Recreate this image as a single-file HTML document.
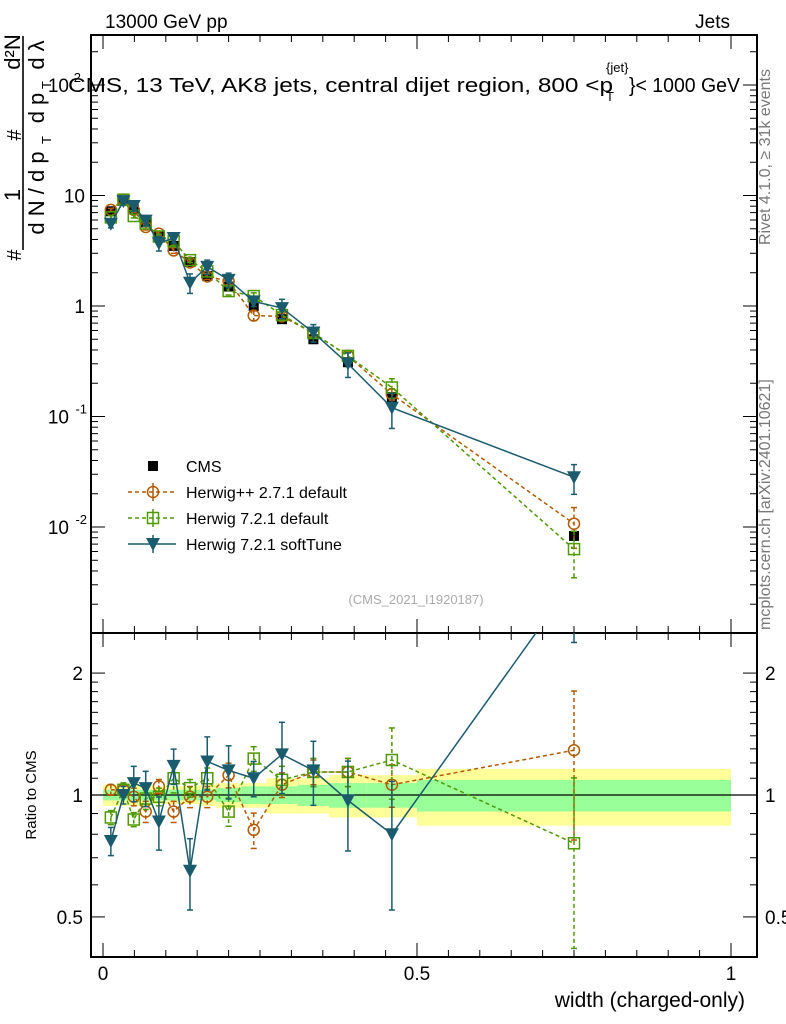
<!DOCTYPE html>
<html><head><meta charset="utf-8"><style>
body{margin:0;background:#fff}
svg{display:block;font-family:"Liberation Sans",sans-serif}
</style></head><body>
<svg id="c" width="786" height="1024" viewBox="0 0 786 1024"></svg>
<script>
const xs=[0.0125,0.0325,0.049,0.068,0.089,0.1125,0.1385,0.166,0.2,0.24,0.285,0.335,0.39,0.46,0.75];
const edges=[0,0.025,0.04,0.058,0.078,0.1,0.125,0.152,0.18,0.22,0.26,0.31,0.36,0.42,0.5,1.0];
const cms=[7.2,8.9,7.5,5.7,4.3,3.5,2.5,1.87,1.5,1.0,0.76,0.5,0.31,0.15,0.0083];
const bandYellow=[0.06,0.06,0.06,0.06,0.05,0.05,0.05,0.06,0.07,0.07,0.1,0.1,0.12,0.12,0.16];
const bandGreen=[0.03,0.03,0.03,0.03,0.03,0.03,0.03,0.03,0.04,0.05,0.05,0.06,0.07,0.07,0.09];
const rHpp=[1.03,1.03,0.99,0.91,1.05,0.91,0.99,0.99,1.12,0.82,1.06,1.14,1.14,1.06,1.29];
const eHpp=[0.03,0.03,0.05,0.06,0.04,0.06,0.06,0.06,0.07,0.1,0.07,0.07,0.08,0.12,0.4];
const rH7=[0.88,1.03,0.87,0.98,0.99,1.10,1.04,1.10,0.91,1.23,1.09,1.14,1.14,1.22,0.76];
const eH7=[0.04,0.04,0.04,0.06,0.05,0.08,0.05,0.06,0.08,0.07,0.08,0.08,0.08,0.2,0.45];
const rSoft=[0.77,1.0,1.07,1.04,0.86,1.18,0.65,1.21,1.15,1.10,1.26,1.15,0.97,0.80,3.4];
const eSoft=[0.08,0.05,0.1,0.1,0.15,0.1,0.2,0.15,0.15,0.1,0.2,0.18,0.25,0.35,0.3];
const mainTicks=[["10",10],["1",1]];
const ratioTicks=[["2",2],["1",1],["0.5",0.5]];
const xTicks=[["0",0],["0.5",0.5],["1",1]];

const NS="http://www.w3.org/2000/svg",svg=document.getElementById('c');
function el(t,a,p){const e=document.createElementNS(NS,t);for(const k in a)e.setAttribute(k,a[k]);(p||svg).appendChild(e);return e;}
const X=v=>103+628*v;
const Y=v=>306-110.5*Math.log10(v);
const R=v=>795-405*Math.log10(v);
const L=91,Rt=757,T=35,M=633,B=957;

const defs=el('defs',{});
let cp=el('clipPath',{id:'cm'},defs);el('rect',{x:L,y:T,width:Rt-L,height:M-T},cp);
cp=el('clipPath',{id:'cr'},defs);el('rect',{x:L,y:M,width:Rt-L,height:B-M},cp);

let t;
t=el('text',{x:105,y:28,'font-size':19});t.textContent='13000 GeV pp';

t=el('text',{x:730,y:28,'font-size':19,'text-anchor':'end'});t.textContent='Jets';

t=el('text',{x:68,y:92,'font-size':20,textLength:545,lengthAdjust:'spacingAndGlyphs'});t.textContent='CMS, 13 TeV, AK8 jets, central dijet region, 800 <p';

t=el('text',{x:606,y:72,'font-size':13});t.textContent='{jet}';
t=el('text',{x:606,y:101,'font-size':13});t.textContent='T';
t=el('text',{x:629,y:92,'font-size':20,textLength:111,lengthAdjust:'spacingAndGlyphs'});t.textContent='}< 1000 GeV';
t=el('text',{x:0,y:0,'font-size':16,fill:'#777',transform:'translate(770,245) rotate(-90)'});t.textContent='Rivet 4.1.0, ≥ 31k events';

t=el('text',{x:0,y:0,'font-size':16,fill:'#777',transform:'translate(770,630) rotate(-90)'});t.textContent='mcplots.cern.ch [arXiv:2401.10621]';

t=el('text',{x:416,y:604,'font-size':13,fill:'#aaa','text-anchor':'middle'});t.textContent='(CMS_2021_I1920187)';


// y axis title (rotated)
const yt=el('g',{});

function rt(s,x,y,fs){const e=el('text',{x:0,y:0,'font-size':fs,'text-anchor':'middle',transform:`translate(${x},${y}) rotate(-90)`},yt);e.textContent=s;return e;}
rt('#',21,255,20);rt('1',20,195,22);rt('#',21,135,20);rt('d²N',20,52,22);
el('line',{x1:23,y1:36,x2:23,y2:250,stroke:'#000','stroke-width':1.6},yt);
rt('d N / d p',44,193,22);rt('T',51,140,13);rt('d p',44,108,22);rt('T',51,85,13);rt('d λ',44,55,22);

el('rect',{x:L,y:T,width:Rt-L,height:M-T,fill:'none',stroke:'#000','stroke-width':2});
el('rect',{x:L,y:M,width:Rt-L,height:B-M,fill:'none',stroke:'#000','stroke-width':2});

for(let e=-3;e<=2;e++)for(let m=1;m<10;m++){const v=m*Math.pow(10,e),y=Y(v);if(y<T||y>M)continue;const len=m==1?14:7;
 el('line',{x1:L,y1:y,x2:L+len,y2:y,stroke:'#000'});el('line',{x1:Rt,y1:y,x2:Rt-len,y2:y,stroke:'#000'});}
mainTicks.forEach(([s,v])=>{t=el('text',{x:L-6,y:Y(v)+7,'font-size':19,'text-anchor':'end'});t.textContent=s;
 });
[[-1,'10'],[-2,'10']].forEach(([e,s])=>{t=el('text',{x:L-22,y:Y(Math.pow(10,e))+7,'font-size':19,'text-anchor':'end'});t.textContent=s;
 
 t=el('text',{x:L-4,y:Y(Math.pow(10,e))-3,'font-size':13,'text-anchor':'end'});t.textContent=String(e);});
t=el('text',{x:L-22,y:Y(100)+7,'font-size':19,'text-anchor':'end'});t.textContent='10';
t=el('text',{x:L-10,y:Y(100)-3,'font-size':13,'text-anchor':'end'});t.textContent='2';
for(let i=0;i<=20;i++){const v=i*0.05,x=X(v),len=i%10==0?14:7;
 el('line',{x1:x,y1:T,x2:x,y2:T+len,stroke:'#000'});el('line',{x1:x,y1:M,x2:x,y2:M-len,stroke:'#000'});
 el('line',{x1:x,y1:M,x2:x,y2:M+len,stroke:'#000'});el('line',{x1:x,y1:B,x2:x,y2:B-len,stroke:'#000'});}
xTicks.forEach(([s,v])=>{t=el('text',{x:X(v),y:980,'font-size':19,'text-anchor':'middle'});t.textContent=s;
 });
t=el('text',{x:745,y:1007,'font-size':21,'text-anchor':'end'});t.textContent='width (charged-only)';

[0.5,0.6,0.7,0.8,0.9,1,2].forEach(v=>{const y=R(v);if(y<M||y>B)return;const len=(v==1||v==2||v==0.5)?14:7;
 el('line',{x1:L,y1:y,x2:L+len,y2:y,stroke:'#000'});el('line',{x1:Rt,y1:y,x2:Rt-len,y2:y,stroke:'#000'});});
[1.1,1.2,1.3,1.4,1.5,1.6,1.7,1.8,1.9].forEach(v=>{const y=R(v);el('line',{x1:L,y1:y,x2:L+7,y2:y,stroke:'#000'});el('line',{x1:Rt,y1:y,x2:Rt-7,y2:y,stroke:'#000'});});
ratioTicks.forEach(([s,v])=>{t=el('text',{x:L-8,y:R(v)+7,'font-size':19,'text-anchor':'end'});t.textContent=s;
 
 t=el('text',{x:Rt+8,y:R(v)+7,'font-size':19});t.textContent=s;});
t=el('text',{x:0,y:0,'font-size':15,'text-anchor':'middle',transform:'translate(36,795) rotate(-90)'});t.textContent='Ratio to CMS';


const gr=el('g',{'clip-path':'url(#cr)'});
xs.forEach((_,i)=>{const x1=X(edges[i]),x2=X(edges[i+1]);
 let r=el('rect',{x:x1,y:R(1+bandYellow[i]),width:x2-x1,height:R(1-bandYellow[i])-R(1+bandYellow[i]),fill:'#ffff99'},gr);
 
 r=el('rect',{x:x1,y:R(1+bandGreen[i]),width:x2-x1,height:R(1-bandGreen[i])-R(1+bandGreen[i]),fill:'#99ff99'},gr);
 });
el('line',{x1:L,y1:R(1),x2:Rt,y2:R(1),stroke:'#000','stroke-width':1.3},gr);

const gm=el('g',{'clip-path':'url(#cm)'});
function series(name,ratios,errs,color,dash,marker){
 [[gm,i=>Y(cms[i]*ratios[i]),i=>Y(cms[i]*ratios[i]*(1+errs[i])),i=>Y(cms[i]*ratios[i]*(1-errs[i]))],
  [gr,i=>R(ratios[i]),i=>R(ratios[i]*(1+errs[i])),i=>R(ratios[i]*(1-errs[i]))]].forEach(([g,fy,fu,fd])=>{
  const p=el('polyline',{points:xs.map((x,i)=>X(x)+','+fy(i)).join(' '),fill:'none',stroke:color,'stroke-width':1.5,'stroke-dasharray':dash},g);
  
  xs.forEach((x,i)=>{const cx=X(x),cy=fy(i);
   el('line',{x1:cx,y1:fu(i),x2:cx,y2:fd(i),stroke:color,'stroke-width':1.5,'stroke-dasharray':dash},g);
   el('line',{x1:cx-3,y1:fu(i),x2:cx+3,y2:fu(i),stroke:color,'stroke-width':1.5},g);
   el('line',{x1:cx-3,y1:fd(i),x2:cx+3,y2:fd(i),stroke:color,'stroke-width':1.5},g);
   const m=marker(cx,cy,g);});
 });
}
const circ=(c)=>(x,y,g)=>el('circle',{cx:x,cy:y,r:5.5,fill:'none',stroke:c,'stroke-width':1.5},g);
const sq=(c)=>(x,y,g)=>el('rect',{x:x-5.5,y:y-5.5,width:11,height:11,fill:'none',stroke:c,'stroke-width':1.5},g);
const tri=(c)=>(x,y,g)=>el('path',{d:`M${x-7},${y-6}L${x+7},${y-6}L${x},${y+7}Z`,fill:c},g);
xs.forEach((x,i)=>{const cx=X(x),cy=Y(cms[i]);
 el('line',{x1:cx,y1:Y(cms[i]*1.05),x2:cx,y2:Y(cms[i]*0.95),stroke:'#000'},gm);
 const r=el('rect',{x:cx-5,y:cy-5,width:10,height:10,fill:'#000'},gm);
 });
series('herwigpp',rHpp,eHpp,'#b35900','4,3',circ('#b35900'));
series('herwig721',rH7,eH7,'#4d9900','4,3',sq('#4d9900'));
series('softtune',rSoft,eSoft,'#1a5c6e','',tri('#1a5c6e'));

const lg=el('g',{});
const ent=[['CMS',null],['Herwig++ 2.7.1 default','#b35900'],['Herwig 7.2.1 default','#4d9900'],['Herwig 7.2.1 softTune','#1a5c6e']];
ent.forEach(([s,c],i)=>{const y=466+i*26;const g=el('g',{},lg);
 if(!c)el('rect',{x:148,y:y-5,width:10,height:10,fill:'#000'},g);
 else{el('line',{x1:128,y1:y,x2:176,y2:y,stroke:c,'stroke-width':1.5,'stroke-dasharray':i==3?'':'4,3'},g);
  el('line',{x1:153,y1:y-9,x2:153,y2:y+9,stroke:c,'stroke-width':1.5},g);
  if(i==1)circ(c)(153,y,g);if(i==2)sq(c)(153,y,g);if(i==3)tri(c)(153,y,g);}
 const tt=el('text',{x:186,y:y+6,'font-size':16},g);tt.textContent=s;});
</script>
</body></html>
